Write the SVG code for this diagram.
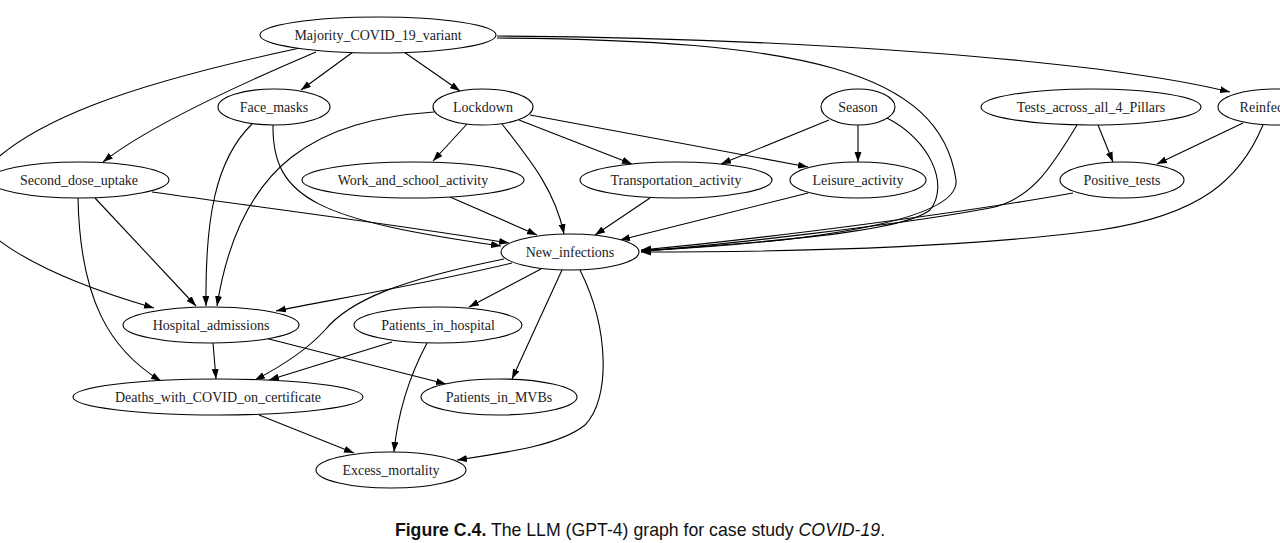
<svg xmlns="http://www.w3.org/2000/svg" width="1280" height="543" viewBox="0 0 1280 543">
<style>
.n ellipse{fill:#fff;stroke:#000;stroke-width:1.1}
.n text{font-family:"Liberation Serif","Times New Roman",serif;font-size:14px;text-anchor:middle;fill:#222}
#edges path{fill:none;stroke:#000;stroke-width:1.1;marker-end:url(#ah)}
.cap{font-family:"Liberation Sans",Arial,sans-serif;font-size:17.7px;fill:#111}
</style>
<defs>
<marker id="ah" markerUnits="userSpaceOnUse" markerWidth="11" markerHeight="8" refX="10" refY="3.5" orient="auto">
<path d="M0,0 L10,3.5 L0,7 z" fill="#000"/>
</marker>
</defs>
<rect width="1280" height="543" fill="#fff"/>
<g id="edges">
<path d="M353,52 L301,90"/>
<path d="M404,52 L460,91"/>
<path d="M316,52 C250,80 150,125 103,162"/>
<path d="M300,48 C150,80 10,120 -30,190 C-40,230 40,275 154,308"/>
<path d="M497,38 C800,40 940,70 956,180 C960,215 850,240 641,251"/>
<path d="M497,36 C800,38 1100,60 1230,92"/>
<path d="M252,124 C215,160 205,220 206,306"/>
<path d="M273,125 C272,200 320,220 501,246"/>
<path d="M434,112 C320,120 240,160 217,306"/>
<path d="M467,124 L433,161"/>
<path d="M502,124 C530,160 555,190 564,234"/>
<path d="M519,120 L632,164"/>
<path d="M530,115 L808,167"/>
<path d="M829,120 L721,164"/>
<path d="M858,125 L858,162"/>
<path d="M887,118 C930,140 950,185 930,210 C900,235 720,245 641,251"/>
<path d="M1098,125 L1113,162"/>
<path d="M1077,125 C1050,170 1030,200 990,208 C900,225 720,245 641,251"/>
<path d="M1243,123 L1157,164"/>
<path d="M1263,125 C1240,180 1200,215 1100,230 C950,250 750,252 641,252"/>
<path d="M1073,193 C950,215 750,240 641,250"/>
<path d="M450,197 L537,235"/>
<path d="M650,198 L595,235"/>
<path d="M808,193 C740,210 680,225 620,240"/>
<path d="M152,192 C280,210 400,225 509,243"/>
<path d="M95,198 L196,306"/>
<path d="M78,198 C80,300 110,350 161,381"/>
<path d="M512,263 C420,285 330,300 276,311"/>
<path d="M504,259 C400,280 350,300 325,330 C305,352 280,367 255,380"/>
<path d="M541,269 L469,307"/>
<path d="M562,270 L512,379"/>
<path d="M580,270 C610,330 610,400 585,425 C560,445 510,452 457,460"/>
<path d="M213,343 L216,379"/>
<path d="M265,338 L446,384"/>
<path d="M392,342 L269,380"/>
<path d="M427,343 C410,375 398,410 394,452"/>
<path d="M259,415 L354,453"/>
</g>
<g id="majority" class="n"><ellipse cx="378" cy="35" rx="118" ry="18"/><text x="378" y="40">Majority_COVID_19_variant</text></g>
<g id="face_masks" class="n"><ellipse cx="274" cy="107" rx="56" ry="18"/><text x="274" y="112">Face_masks</text></g>
<g id="lockdown" class="n"><ellipse cx="483" cy="107" rx="50" ry="18"/><text x="483" y="112">Lockdown</text></g>
<g id="season" class="n"><ellipse cx="858" cy="107" rx="37" ry="18"/><text x="858" y="112">Season</text></g>
<g id="tests" class="n"><ellipse cx="1091" cy="107" rx="110" ry="18"/><text x="1091" y="112">Tests_across_all_4_Pillars</text></g>
<g id="reinfections" class="n"><ellipse cx="1275" cy="107" rx="57" ry="18"/><text x="1275" y="112">Reinfections</text></g>
<g id="second_dose" class="n"><ellipse cx="79" cy="180" rx="90" ry="18"/><text x="79" y="185">Second_dose_uptake</text></g>
<g id="work" class="n"><ellipse cx="413" cy="180" rx="111" ry="18"/><text x="413" y="185">Work_and_school_activity</text></g>
<g id="transportation" class="n"><ellipse cx="676" cy="180" rx="96" ry="18"/><text x="676" y="185">Transportation_activity</text></g>
<g id="leisure" class="n"><ellipse cx="858" cy="180" rx="68" ry="18"/><text x="858" y="185">Leisure_activity</text></g>
<g id="positive_tests" class="n"><ellipse cx="1122" cy="180" rx="62" ry="18"/><text x="1122" y="185">Positive_tests</text></g>
<g id="new_infections" class="n"><ellipse cx="570" cy="252" rx="69" ry="18"/><text x="570" y="257">New_infections</text></g>
<g id="hospital_admissions" class="n"><ellipse cx="211" cy="325" rx="88" ry="18"/><text x="211" y="330">Hospital_admissions</text></g>
<g id="patients_in_hospital" class="n"><ellipse cx="438" cy="325" rx="84" ry="18"/><text x="438" y="330">Patients_in_hospital</text></g>
<g id="deaths" class="n"><ellipse cx="218" cy="397" rx="145" ry="18"/><text x="218" y="402">Deaths_with_COVID_on_certificate</text></g>
<g id="patients_mvbs" class="n"><ellipse cx="499" cy="397" rx="78" ry="18"/><text x="499" y="402">Patients_in_MVBs</text></g>
<g id="excess" class="n"><ellipse cx="391" cy="470" rx="75" ry="18"/><text x="391" y="475">Excess_mortality</text></g>
<text class="cap" x="640" y="536" text-anchor="middle"><tspan font-weight="bold">Figure C.4.</tspan> The LLM (GPT-4) graph for case study <tspan font-style="italic">COVID-19</tspan>.</text>
</svg>
